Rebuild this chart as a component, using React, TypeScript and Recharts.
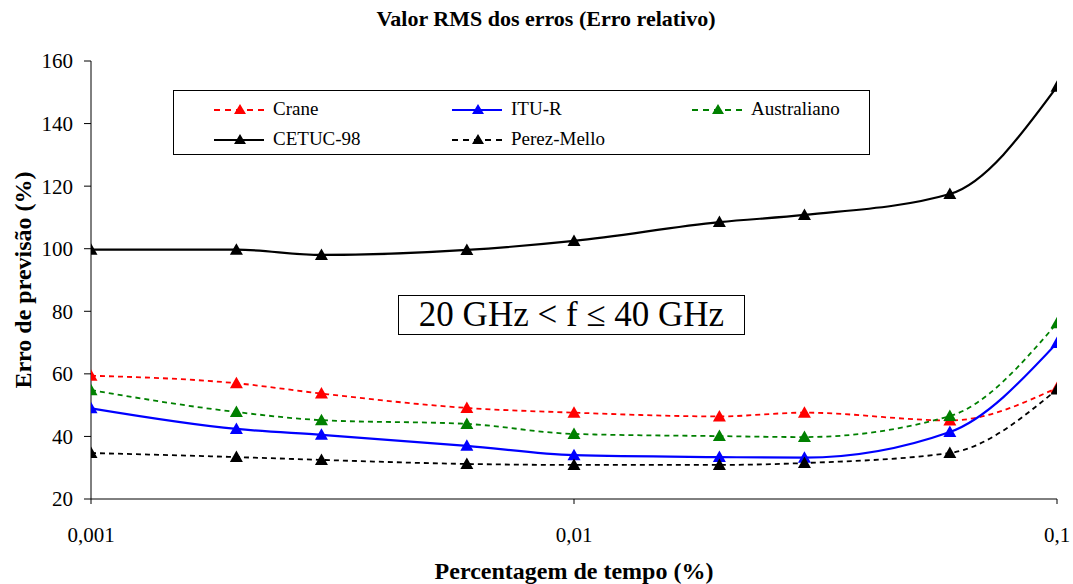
import { LineChart, Line, XAxis, YAxis, Legend } from "recharts";

// Percentagem de tempo (%) – log scale
const tempo = [0.001, 0.002, 0.003, 0.006, 0.01, 0.02, 0.03, 0.06, 0.1];

// Valor RMS do erro relativo (%) por modelo
const crane = [59.4, 57.0, 53.7, 49.1, 47.6, 46.4, 47.6, 45.1, 55.5];
const ituR = [49.0, 42.4, 40.5, 37.0, 34.0, 33.4, 33.2, 41.4, 69.9];
const australiano = [54.8, 47.8, 45.2, 44.0, 40.8, 40.1, 39.8, 46.5, 76.2];
const cetuc98 = [99.7, 99.7, 98.0, 99.6, 102.5, 108.5, 110.8, 117.5, 151.8];
const perezMello = [34.7, 33.4, 32.5, 31.2, 30.9, 30.9, 31.5, 34.7, 55.0];

const xTicks = [0.001, 0.01, 0.1];
const yTicks = [20, 40, 60, 80, 100, 120, 140, 160];

const data = tempo.map((t, i) => ({
  tempo: t,
  crane: crane[i],
  ituR: ituR[i],
  australiano: australiano[i],
  cetuc98: cetuc98[i],
  perezMello: perezMello[i],
}));

const series = [
  { key: "crane", name: "Crane", color: "#ff0000", dash: "5 4", width: 1.8 },
  { key: "ituR", name: "ITU-R", color: "#0000ff", dash: undefined, width: 2.2 },
  { key: "australiano", name: "Australiano", color: "#008000", dash: "5 4", width: 1.8 },
  { key: "cetuc98", name: "CETUC-98", color: "#000000", dash: undefined, width: 2.2 },
  { key: "perezMello", name: "Perez-Mello", color: "#000000", dash: "5 4", width: 1.8 },
];

const serif = "Liberation Serif";

function Triangle(props: any) {
  const { cx, cy, fill, index } = props;
  if (cx == null || cy == null) return null;
  const w = 6.5;
  return (
    <polygon
      key={index}
      points={`${cx - w},${cy + 5} ${cx + w},${cy + 5} ${cx},${cy - 6.5}`}
      fill={fill}
    />
  );
}

// legend: two rows / three columns inside a framed box
const legendSlots = [
  { left: 39, top: 18 },
  { left: 277, top: 18 },
  { left: 517, top: 18 },
  { left: 39, top: 48 },
  { left: 277, top: 48 },
];

function LegendBox() {
  return (
    <div
      style={{
        position: "relative",
        width: 695,
        height: 63,
        border: "1px solid #000",
        background: "#fff",
        fontFamily: serif,
        fontSize: 19,
        color: "#000",
      }}
    >
      {series.map((s, i) => (
        <div
          key={s.key}
          style={{
            position: "absolute",
            left: legendSlots[i].left,
            top: legendSlots[i].top - 12,
            height: 24,
            display: "flex",
            alignItems: "center",
            whiteSpace: "nowrap",
          }}
        >
          <svg width={52} height={24} style={{ marginRight: 8 }}>
            <line
              x1={1}
              y1={13}
              x2={51}
              y2={13}
              stroke={s.color}
              strokeWidth={s.width}
              strokeDasharray={s.dash ? "6 5" : undefined}
            />
            <polygon points="21,17 33,17 27,7" fill={s.color} />
          </svg>
          <span>{s.name}</span>
        </div>
      ))}
    </div>
  );
}

export default function App() {
  return (
    <div
      style={{
        position: "absolute",
        left: 0,
        top: 0,
        width: 1073,
        height: 584,
        background: "#fff",
        fontFamily: serif,
      }}
    >
      <div
        style={{
          position: "absolute",
          left: 0,
          top: 6,
          width: 1092,
          textAlign: "center",
          fontWeight: "bold",
          fontSize: 22,
        }}
      >
        Valor RMS dos erros (Erro relativo)
      </div>
      <LineChart
        width={1073}
        height={584}
        data={data}
        margin={{ top: 61, right: 16, left: 51, bottom: 55 }}
        style={{ fontFamily: serif }}
      >
        <XAxis
          dataKey="tempo"
          type="number"
          scale="log"
          domain={[0.001, 0.1]}
          ticks={xTicks}
          allowDataOverflow
          height={30}
          tickSize={5}
          tickMargin={23}
          stroke="#000"
          tick={{ fontSize: 21, fill: "#000", fontFamily: serif }}
          tickFormatter={(v: number) => String(v).replace(".", ",")}
          label={{
            value: "Percentagem de tempo (%)",
            position: "center",
            dy: 56,
            style: { fontSize: 24, fontWeight: "bold", fill: "#000", fontFamily: serif },
          }}
        />
        <YAxis
          type="number"
          domain={[20, 160]}
          ticks={yTicks}
          width={40}
          tickSize={7}
          tickMargin={11}
          stroke="#000"
          tick={{ fontSize: 21, fill: "#000", fontFamily: serif }}
          label={{
            value: "Erro de previsão (%)",
            angle: -90,
            position: "center",
            dx: -49,
            style: { fontSize: 24, fontWeight: "bold", fill: "#000", fontFamily: serif, textAnchor: "middle" },
          }}
        />
        <Legend
          layout="horizontal"
          verticalAlign="middle"
          align="center"
          content={() => <LegendBox />}
          wrapperStyle={{ left: 173, top: 90, width: 697, height: 65 }}
        />
        {series.map((s) => (
          <Line
            key={s.key}
            dataKey={s.key}
            name={s.name}
            type="monotone"
            stroke={s.color}
            strokeWidth={s.width}
            strokeDasharray={s.dash}
            dot={(p: any) => <Triangle {...p} fill={s.color} />}
            activeDot={false}
            isAnimationActive={false}
          />
        ))}
      </LineChart>
      <div
        style={{
          position: "absolute",
          left: 398,
          top: 295,
          width: 345,
          height: 38,
          border: "1px solid #000",
          background: "#fff",
          fontSize: 35,
          lineHeight: "38px",
          textAlign: "center",
          color: "#000",
          whiteSpace: "nowrap",
        }}
      >
        20 GHz &lt; f ≤ 40 GHz
      </div>
    </div>
  );
}
